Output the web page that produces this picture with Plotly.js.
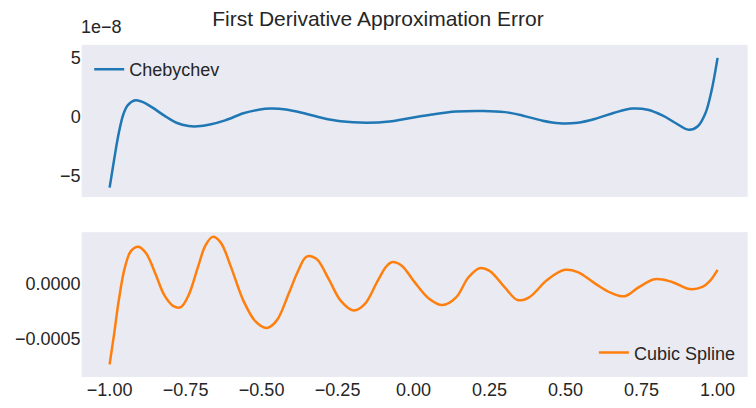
<!DOCTYPE html>
<html><head><script src="https://cdn.plot.ly/plotly-3.0.1.min.js"></script>
<style>body{margin:0}</style></head><body><div id="c" style="width:756px;height:408px"></div>
<script>
const chebX=[-1.0,-0.985,-0.97,-0.955,-0.94,-0.915,-0.89,-0.86,-0.82,-0.78,-0.74,-0.71,-0.67,-0.62,-0.56,-0.51,-0.47,-0.42,-0.36,-0.3,-0.24,-0.155,-0.08,-0.01,0.06,0.14,0.23,0.3,0.36,0.42,0.48,0.54,0.6,0.66,0.72,0.77,0.82,0.86,0.905,0.935,0.96,0.98,1.0];
const chebY=[-6.0,-3.6,-1.4,0.2,1.0,1.4,1.25,0.8,0.1,-0.5,-0.78,-0.8,-0.65,-0.3,0.3,0.6,0.7,0.62,0.3,-0.1,-0.38,-0.5,-0.4,-0.1,0.2,0.45,0.5,0.4,0.1,-0.3,-0.55,-0.5,-0.15,0.35,0.7,0.6,0.1,-0.5,-1.1,-0.8,0.3,2.2,5.0].map(v=>v*1e-8);
const splX=[-1.0,-0.985,-0.97,-0.95,-0.93,-0.905,-0.88,-0.85,-0.82,-0.79,-0.766,-0.74,-0.71,-0.685,-0.661,-0.635,-0.6,-0.56,-0.52,-0.484,-0.45,-0.41,-0.38,-0.352,-0.32,-0.28,-0.24,-0.197,-0.16,-0.12,-0.09,-0.072,-0.04,0.0,0.05,0.095,0.14,0.18,0.217,0.25,0.3,0.342,0.38,0.44,0.497,0.54,0.6,0.65,0.694,0.74,0.793,0.85,0.908,0.95,0.975,1.0];
const splY=[-7.3,-4.5,-1.5,1.5,3.0,3.4,2.8,1.0,-1.0,-2.0,-2.1,-1.0,1.5,3.5,4.3,3.8,1.5,-1.5,-3.4,-4.0,-3.3,-0.8,1.2,2.5,2.3,0.5,-1.5,-2.4,-1.8,0.2,1.6,2.0,1.7,0.3,-1.3,-1.9,-1.2,0.6,1.45,1.2,-0.3,-1.45,-1.2,0.4,1.3,1.1,0.0,-0.8,-1.1,-0.3,0.45,0.2,-0.45,-0.25,0.3,1.3].map(v=>v*1e-4);
const xTicks=[-1,-0.75,-0.5,-0.25,0,0.25,0.5,0.75,1];
const xTickText=["−1.00","−0.75","−0.50","−0.25","0.00","0.25","0.50","0.75","1.00"];
const f={family:"Liberation Sans, Arial",size:18,color:"#262626"};
const ax={showgrid:false,zeroline:false,showline:false,ticks:"",tickfont:f};
Plotly.newPlot("c",[
 {x:chebX,y:chebY,mode:"lines",line:{color:"#1f77b4",width:2.5,shape:"spline",smoothing:1},name:"Chebychev",xaxis:"x",yaxis:"y",legend:"legend",showlegend:true},
 {x:splX,y:splY,mode:"lines",line:{color:"#ff7f0e",width:2.5,shape:"spline",smoothing:1},name:"Cubic Spline",xaxis:"x2",yaxis:"y2",legend:"legend2",showlegend:true}
],{
 width:756,height:408,margin:{l:0,r:0,t:0,b:0},paper_bgcolor:"white",plot_bgcolor:"#EAEAF2",font:f,showlegend:true,
 title:{text:"First Derivative Approximation Error",x:0.5,xanchor:"center",y:0.955,yanchor:"middle",font:{family:"Liberation Sans, Arial",size:21,color:"#262626"}},
 xaxis:Object.assign({},ax,{domain:[0.108,0.989],range:[-1.092,1.099],showticklabels:false,anchor:"y"}),
 yaxis:Object.assign({},ax,{domain:[0.517,0.890],range:[-6.8e-8,6.1e-8],tickvals:[-5e-8,0,5e-8],ticktext:["−5","0","5"],anchor:"x"}),
 xaxis2:Object.assign({},ax,{domain:[0.108,0.989],range:[-1.092,1.099],tickvals:xTicks,ticktext:xTickText,anchor:"y2"}),
 yaxis2:Object.assign({},ax,{domain:[0.076,0.431],range:[-0.000845,0.000473],tickvals:[-0.0005,0],ticktext:["−0.0005","0.0000"],anchor:"x2"}),
 legend:{x:0.118,y:0.875,xanchor:"left",yanchor:"top",bgcolor:"rgba(234,234,242,0.8)",font:f},
 legend2:{x:0.98,y:0.09,xanchor:"right",yanchor:"bottom",bgcolor:"rgba(234,234,242,0.8)",font:f},
 annotations:[{text:"1e−8",xref:"paper",yref:"paper",x:0.105,y:0.905,xanchor:"left",yanchor:"bottom",showarrow:false,font:f}]
},{displayModeBar:false});
</script></body></html>
